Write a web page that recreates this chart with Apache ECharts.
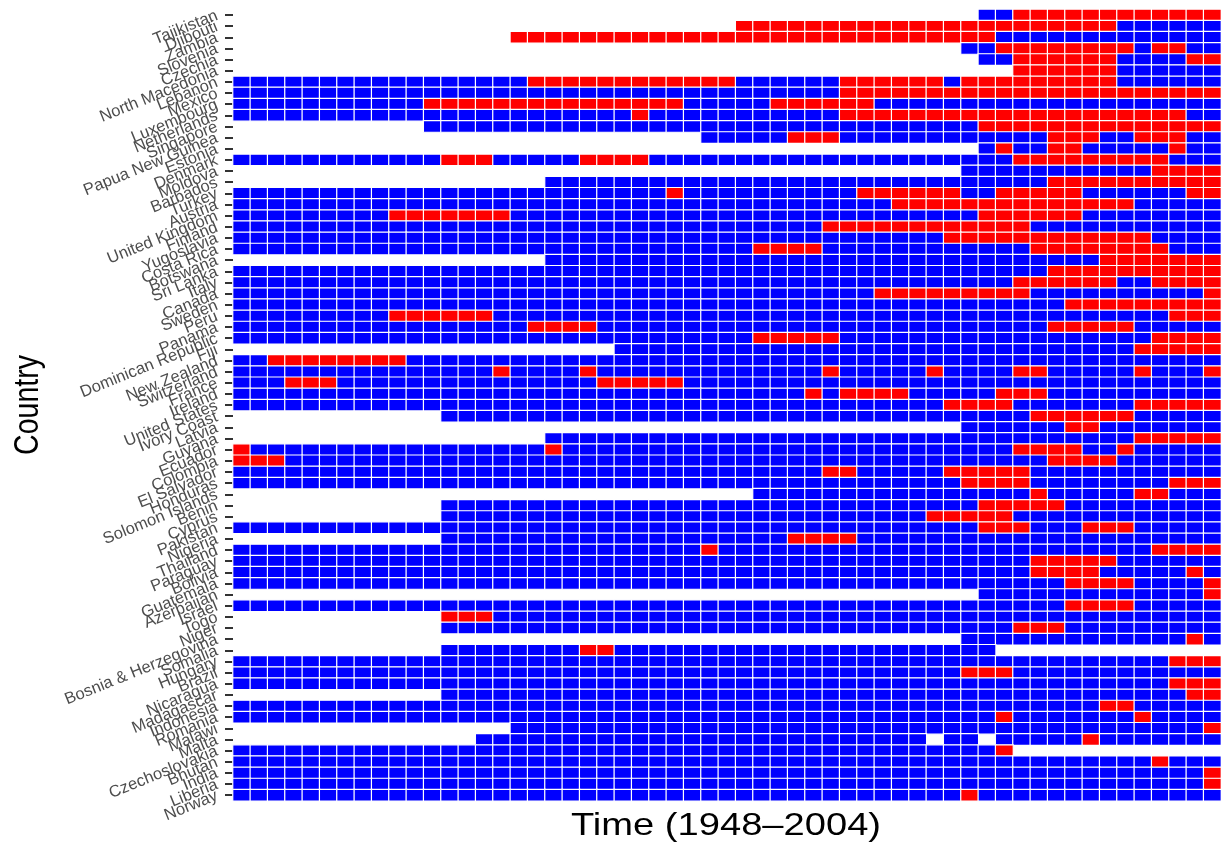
<!DOCTYPE html>
<html><head><meta charset="utf-8">
<script src="https://cdn.jsdelivr.net/npm/echarts@6/dist/echarts.min.js"></script>
<style>html,body{margin:0;padding:0;background:#fff}#c{width:1221px;height:844px}</style>
</head><body><div id="c"></div>
<script>
const years = ["1948","1949","1950","1951","1952","1953","1954","1955","1956","1957",
"1958","1959","1960","1961","1962","1963","1964","1965","1966","1967",
"1968","1969","1970","1971","1972","1973","1974","1975","1976","1977",
"1978","1979","1980","1981","1982","1983","1984","1985","1986","1987",
"1988","1989","1990","1991","1992","1993","1994","1995","1996","1997",
"1998","1999","2000","2001","2002","2003","2004"];

const countries = ["Tajikistan","Djibouti","Zambia","Slovenia","Czechia","North Macedonia","Lebanon","Mexico",
"Luxembourg","Netherlands","Singapore","Papua New Guinea","Estonia","Denmark","Moldova","Barbados","Turkey",
"Austria","United Kingdom","Finland","Yugoslavia","Costa Rica","Botswana","Sri Lanka","Italy","Canada","Sweden",
"Peru","Panama","Dominican Republic","Fiji","New Zealand","Switzerland","France","Ireland","United States",
"Ivory Coast","Latvia","Guyana","Ecuador","Colombia","El Salvador","Honduras","Solomon Islands","Benin","Cyprus",
"Pakistan","Nigeria","Thailand","Paraguay","Bolivia","Guatemala","Azerbaijan","Israel","Togo","Niger",
"Bosnia & Herzegovina","Somalia","Hungary","Brazil","Nicaragua","Madagascar","Indonesia","Romania","Malawi",
"Malta","Czechoslovakia","Bhutan","India","Liberia","Norway"];

// one string per country (top to bottom), one char per year: "." missing, "0" blue, "1" red
const states = [
".......... .......... .......... .......... ...0011111 1111111",
".......... .......... .........1 1111111111 1111111111 1000000",
".......... ......1111 1111111111 1111111111 1111000000 0000000",
".......... .......... .......... .......... ..00111111 1101100",
".......... .......... .......... .......... ...0011111 1000011",
".......... .......... .......... .......... .....11111 1000000",
"0000000000 0000000111 1111111110 0000011111 1011111111 1000000",
"0000000000 0000000000 0000000000 0000011111 1111111111 1111111",
"0000000000 0111111111 1111110000 0111111000 0000000000 0000000",
"0000000000 0000000000 0001000000 0000011111 1111111111 1111100",
".......... .000000000 0000000000 0000000000 0001111111 1111111",
".......... .......... .......000 0011100000 0000000111 0011100",
".......... .......... .......... .......... ...0100110 0000100",
"0000000000 0011100000 1111000000 0000000000 0000011111 1111000",
".......... .......... .......... .......... ..00000000 0001111",
".......... ........00 0000000000 0000000000 0000000111 1111111",
"0000000000 0000000000 0000010000 0000001111 1100111110 0000011",
"0000000000 0000000000 0000000000 0000000011 1111111111 1100000",
"0000000001 1111110000 0000000000 0000000000 0001111110 0000000",
"0000000000 0000000000 0000000000 0000111111 1111110000 0000000",
"0000000000 0000000000 0000000000 0000000000 0111111111 1110000",
"0000000000 0000000000 0000000000 1111000000 0000001111 1111000",
".......... ........00 0000000000 0000000000 0000000000 1111111",
"0000000000 0000000000 0000000000 0000000000 0000000111 1111111",
"0000000000 0000000000 0000000000 0000000000 0000011111 1001111",
"0000000000 0000000000 0000000000 0000000111 1111110000 0000001",
"0000000000 0000000000 0000000000 0000000000 0000000011 1111111",
"0000000001 1111100000 0000000000 0000000000 0000000000 0000111",
"0000000000 0000000111 1000000000 0000000000 0000000111 1100000",
"0000000000 0000000000 0000000000 1111100000 0000000000 0001111",
".......... .......... ..00000000 0000000000 0000000000 0011111",
"0011111111 0000000000 0000000000 0000000000 0000000000 0000000",
"0000000000 0000010000 1000000000 0000100000 1000011000 0010001",
"0001110000 0000000000 0111110000 0000000000 0000000000 0000000",
"0000000000 0000000000 0000000000 0001011110 0000111000 0000000",
"0000000000 0000000000 0000000000 0000000000 0111100000 0011111",
".......... ..00000000 0000000000 0000000000 0000001111 1100000",
".......... .......... .......... .......... ..00000011 0000000",
".......... ........00 0000000000 0000000000 0000000000 0011111",
"1000000000 0000000010 0000000000 0000000000 0000011110 0100000",
"1110000000 0000000000 0000000000 0000000000 0000000111 1000000",
"0000000000 0000000000 0000000000 0000110000 0111110000 0000000",
"0000000000 0000000000 0000000000 0000000000 0011110000 0000111",
".......... .......... .......... 0000000000 0000001000 0011000",
".......... ..00000000 0000000000 0000000000 0001111100 0000000",
".......... ..00000000 0000000000 0000000000 1111100000 0000000",
"0000000000 0000000000 0000000000 0000000000 0001110001 1100000",
".......... ..00000000 0000000000 0011110000 0000000000 0000000",
"0000000000 0000000000 0000000100 0000000000 0000000000 0001111",
"0000000000 0000000000 0000000000 0000000000 0000001111 1000000",
"0000000000 0000000000 0000000000 0000000000 0000001111 0000010",
"0000000000 0000000000 0000000000 0000000000 0000000011 1100001",
".......... .......... .......... .......... ...0000000 0000001",
"0000000000 0000000000 0000000000 0000000000 0000000011 1100000",
".......... ..11100000 0000000000 0000000000 0000000000 0000000",
".......... ..00000000 0000000000 0000000000 0000011100 0000000",
".......... .......... .......... .......... ..00000000 0000010",
".......... ..00000000 1100000000 0000000000 0000...... .......",
"0000000000 0000000000 0000000000 0000000000 0000000000 0000111",
"0000000000 0000000000 0000000000 0000000000 0011100000 0000000",
"0000000000 0000000000 0000000000 0000000000 0000000000 0000111",
".......... ..00000000 0000000000 0000000000 0000000000 0000011",
"0000000000 0000000000 0000000000 0000000000 0000000000 1100000",
"0000000000 0000000000 0000000000 0000000000 0000100000 0010000",
".......... ......0000 0000000000 0000000000 0000000000 0000001",
".......... ....000000 0000000000 0000000000 .00.000001 0000000",
"0000000000 0000000000 0000000000 0000000000 00001..... .......",
"0000000000 0000000000 0000000000 0000000000 0000000000 0001000",
"0000000000 0000000000 0000000000 0000000000 0000000000 0000001",
"0000000000 0000000000 0000000000 0000000000 0000000000 0000001",
"0000000000 0000000000 0000000000 0000000000 0010000000 0000000"
];

const data = [];
states.forEach(function (s, yi) {
  const t = s.replace(/ /g, '');
  for (let xi = 0; xi < t.length; xi++) {
    if (t[xi] !== '.') data.push([xi, yi, Number(t[xi])]);
  }
});

const FONT = '"Liberation Sans", Arial, Helvetica, sans-serif';
const chart = echarts.init(document.getElementById('c'), null, {renderer: 'canvas'});
chart.setOption({
  backgroundColor: '#ffffff',
  animation: false,
  grid: {left: 233, top: 9.4, width: 988, height: 791.4, containLabel: false, outerBoundsMode: 'none'},
  xAxis: {
    type: 'category', data: years,
    axisLine: {show: false}, axisTick: {show: false}, axisLabel: {show: false}, splitLine: {show: false}
  },
  yAxis: {
    type: 'category', data: countries, inverse: true,
    axisLine: {show: false},
    axisTick: {show: true, alignWithLabel: true, interval: 0, length: 8, lineStyle: {color: '#333333', width: 2}},
    axisLabel: {interval: 0, rotate: 22, margin: 16, fontSize: 16.5, color: '#4d4d4d', fontFamily: FONT},
    splitLine: {show: false}
  },
  visualMap: {
    type: 'piecewise', show: false, dimension: 2,
    pieces: [{value: 0, color: '#0000ff'}, {value: 1, color: '#ff0000'}]
  },
  series: [{
    type: 'heatmap', data: data, progressive: 0,
    itemStyle: {borderColor: '#ffffff', borderWidth: 1.2},
    emphasis: {disabled: true}
  }],
  graphic: [
    {type: 'text', x: 726, y: 827, scaleX: 1.25,
     style: {text: 'Time (1948\u20132004)', font: '30.5px ' + FONT, fill: '#000', align: 'center', verticalAlign: 'middle'}},
    {type: 'text', x: 29, y: 405, rotation: Math.PI / 2, scaleY: 1.2,
     style: {text: 'Country', font: '28.5px ' + FONT, fill: '#000', align: 'center', verticalAlign: 'middle'}}
  ]
});
</script>
</body></html>
